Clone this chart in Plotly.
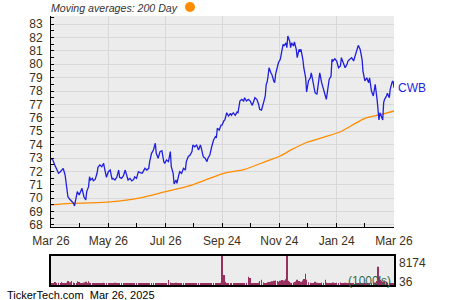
import pandas as pd
import plotly.graph_objects as go

start_date = "2024-03-26"
end_date = "2025-03-26"

# calendar days since the first quote (2024-03-26)
day_offsets = [
    0, 2, 4, 6, 8, 10, 11, 13, 15, 17,
    18, 20, 22, 24, 25, 27, 28, 30, 32, 33,
    35, 37, 38, 40, 41, 42, 44, 45, 47, 49,
    50, 52, 54, 56, 57, 59, 61, 63, 65, 66,
    68, 70, 72, 73, 75, 77, 79, 81, 82, 84,
    86, 88, 89, 91, 93, 95, 97, 98, 100, 102,
    104, 105, 107, 109, 111, 112, 114, 116, 118, 120,
    121, 123, 125, 127, 128, 130, 131, 133, 134, 136,
    137, 139, 141, 143, 144, 146, 148, 150, 151, 153,
    155, 157, 159, 160, 162, 164, 166, 167, 169, 171,
    173, 175, 176, 177, 179, 181, 182, 184, 185, 187,
    189, 191, 192, 194, 196, 198, 199, 201, 203, 205,
    206, 208, 210, 212, 214, 215, 217, 219, 221, 222,
    224, 226, 228, 229, 230, 231, 232, 234, 235, 237,
    238, 239, 241, 242, 244, 246, 247, 248, 250, 251,
    252, 254, 255, 256, 258, 259, 261, 262, 264, 265,
    266, 268, 269, 271, 272, 274, 276, 277, 279, 281,
    283, 284, 286, 288, 290, 292, 293, 294, 296, 298,
    299, 300, 302, 304, 306, 308, 309, 311, 313, 315,
    316, 318, 320, 322, 324, 325, 327, 329, 331, 332,
    334, 336, 338, 339, 341, 343, 345, 347, 348, 349,
    350, 351, 353, 354, 355, 357, 358, 360, 361, 363,
    364, 365,
]

close = [
    72.98, 72.85, 72.48, 72.10, 71.86, 71.98, 72.10, 72.23, 71.73, 70.61,
    70.11, 69.92, 69.74, 69.62, 69.42, 70.00, 70.49, 70.24, 70.61, 70.74,
    70.11, 69.87, 70.49, 70.86, 71.60, 71.36, 71.48, 71.30, 71.40, 71.86,
    72.30, 72.48, 72.35, 72.60, 72.23, 71.56, 71.98, 72.10, 71.40, 71.48,
    71.36, 71.56, 72.10, 71.56, 71.48, 71.66, 72.10, 71.56, 71.36, 71.48,
    71.30, 71.40, 71.60, 71.48, 71.98, 71.90, 71.86, 71.98, 72.23, 72.10,
    72.23, 72.73, 73.35, 73.60, 74.10, 73.35, 72.98, 73.48, 73.55, 72.73,
    72.60, 72.85, 72.73, 73.48, 72.35, 71.86, 71.06, 71.36, 71.11, 71.73,
    71.98, 71.86, 72.23, 72.10, 72.73, 73.10, 73.22, 73.48, 73.97, 73.84,
    73.97, 73.60, 73.97, 73.72, 73.10, 72.98, 72.73, 72.98, 73.22, 73.84,
    74.34, 74.59, 74.54, 75.22, 75.09, 75.46, 75.46, 75.78, 75.84, 76.38,
    76.13, 76.34, 76.19, 76.38, 76.19, 76.43, 76.38, 77.25, 77.38, 77.25,
    77.50, 77.25, 77.38, 77.25, 76.93, 77.08, 77.50, 77.38, 77.00, 76.63,
    76.58, 77.08, 77.63, 78.50, 78.67, 79.12, 79.74, 79.36, 79.24, 78.75,
    78.62, 79.24, 79.74, 80.11, 80.37, 81.11, 81.49, 81.36, 81.60, 81.23,
    82.10, 81.73, 81.23, 81.60, 81.36, 81.66, 81.11, 80.49, 81.11, 80.99,
    81.11, 80.37, 79.74, 78.99, 77.93, 78.75, 78.99, 79.36, 78.62, 77.87,
    77.75, 78.25, 79.36, 78.62, 78.00, 77.63, 77.38, 77.87, 78.87, 79.12,
    80.37, 80.24, 80.41, 80.24, 79.74, 79.87, 80.49, 80.11, 79.74, 79.99,
    80.24, 80.37, 80.49, 80.24, 80.74, 81.11, 81.41, 81.11, 80.37, 79.49,
    78.75, 78.99, 78.62, 78.99, 78.00, 77.63, 78.50, 77.38, 76.26, 75.84,
    76.38, 76.19, 75.84, 77.13, 77.38, 77.63, 77.83, 77.50, 78.13, 78.67,
    78.75, 78.25,
]

# volume in thousands
volume = [
    420, 380, 850, 520, 610, 300, 880, 450, 390, 620,
    1100, 750, 1150, 680, 540, 450, 1050, 820, 560, 310,
    700, 920, 480, 1080, 630, 450, 380, 520, 410, 360,
    450, 520, 380, 610, 470, 350, 420, 540, 380, 300,
    620, 480, 350, 520, 460, 380, 410, 550, 330, 460,
    380, 420, 350, 560, 410, 380, 470, 330, 520, 400,
    360, 450, 420, 380, 510, 350, 460, 380, 420, 350,
    400, 380, 1400, 720, 560, 480, 520, 610, 460, 380,
    420, 390, 450, 520, 460, 380, 410, 360, 490, 420,
    380, 440, 460, 390, 350, 420, 380, 510, 430, 460,
    400, 450, 380, 520, 480, 610, 8174, 2800, 900, 420,
    380, 460, 350, 420, 510, 380, 440, 390, 480, 520,
    430, 600, 2300, 2000, 560, 480, 420, 390, 620, 1100,
    1500, 680, 520, 460, 580, 740, 860, 920, 1050, 1200,
    980, 1300, 1100, 950, 1200, 1400, 1050, 1300, 1600, 8174,
    1200, 900, 620, 540, 700, 850, 980, 1500, 1100, 720,
    900, 1300, 1700, 3200, 1500, 800, 620, 540, 480, 900,
    650, 520, 480, 700, 560, 1500, 620, 480, 520, 410,
    560, 700, 480, 620, 540, 700, 480, 560, 620, 440,
    520, 460, 580, 400, 720, 540, 480, 620, 520, 380,
    460, 420, 380, 560, 520, 620, 700, 1100, 5150, 2300,
    1500, 1200, 900, 800, 1300, 900, 700, 620, 560, 500,
    480, 520,
]

ma_days = [0, 20, 41, 63, 95, 122, 146, 160, 178, 185, 206, 228, 244, 256,
           271, 292, 308, 324, 334, 349, 365]
ma_200 = [69.50, 69.62, 69.65, 69.72, 70.02, 70.49, 70.90, 71.24, 71.73, 71.88,
          72.15, 72.73, 73.15, 73.62, 74.14, 74.59, 74.96, 75.59, 75.96, 76.21,
          76.51]

tick_dates = ["2024-03-26", "2024-05-26", "2024-07-26", "2024-09-24",
              "2024-11-24", "2025-01-24", "2025-03-26"]
tick_labels = ["Mar 26", "May 26", "Jul 26", "Sep 24", "Nov 24", "Jan 24", "Mar 26"]
minor_dates = ["2024-04-25", "2024-06-25", "2024-08-25", "2024-10-24",
               "2024-12-24", "2025-02-23"]

ticker = "CWB"
volume_max_label = "8174"
volume_min_label = "36"

base = pd.Timestamp(start_date)
dates = base + pd.to_timedelta(day_offsets, unit="D")
ma_dates = base + pd.to_timedelta(ma_days, unit="D")

FONT = "Liberation Sans, Arial, sans-serif"
LABEL = "#3d3018"
BG = "#ececec"
GRID = "#d8d8d8"

fig = go.Figure()
fig.add_trace(go.Scatter(x=ma_dates, y=ma_200, mode="lines",
                         line=dict(color="#ff8c00", width=1.3, shape="spline", smoothing=0.6),
                         hoverinfo="skip", xaxis="x", yaxis="y"))
fig.add_trace(go.Scatter(x=dates, y=close, mode="lines",
                         line=dict(color="#1f1fdd", width=1.3),
                         xaxis="x", yaxis="y"))
fig.add_trace(go.Bar(x=dates, y=volume, marker=dict(color="#99305f", line=dict(width=0)),
                     xaxis="x2", yaxis="y2"))

xdom = [51 / 450, 394 / 450]
fig.update_layout(
    width=450, height=300,
    margin=dict(l=0, r=0, t=0, b=0, autoexpand=False),
    paper_bgcolor="white", plot_bgcolor=BG,
    showlegend=False, bargap=0.35,
    font=dict(family=FONT, size=12, color=LABEL),
    xaxis=dict(domain=xdom, anchor="y", type="date", automargin=False,
               range=[start_date, end_date],
               tickmode="array", tickvals=tick_dates, ticktext=tick_labels,
               ticks="inside", ticklen=4, tickcolor="black",
               showline=True, linecolor="black", linewidth=1,
               showgrid=True, gridcolor=GRID, gridwidth=1,
               minor=dict(tickvals=minor_dates, ticks="inside", ticklen=4,
                          tickcolor="black", showgrid=False),
               tickfont=dict(size=12, color=LABEL), ticklabelstandoff=3,
               zeroline=False),
    yaxis=dict(domain=[73 / 300, 284 / 300], anchor="x", automargin=False,
               range=[67.85, 83.6], dtick=1, tick0=0,
               ticks="inside", ticklen=3, tickcolor="black",
               showline=True, linecolor="black", linewidth=1,
               showgrid=True, gridcolor=GRID, gridwidth=1,
               minor=dict(dtick=0.5, ticks="inside", ticklen=3,
                          tickcolor="black", showgrid=False),
               tickfont=dict(size=12, color=LABEL), ticklabelstandoff=5,
               zeroline=False),
    xaxis2=dict(domain=xdom, anchor="y2", type="date", automargin=False,
                range=[start_date, end_date], showticklabels=False,
                showline=True, mirror=True, linecolor="black", linewidth=1.5,
                showgrid=False, ticks="", zeroline=False),
    yaxis2=dict(domain=[15 / 300, 44 / 300], anchor="x2", automargin=False,
                range=[0, 8174], showticklabels=False,
                showline=True, mirror=True, linecolor="black", linewidth=1.5,
                showgrid=False, ticks="", zeroline=False),
)

annotations = [
    dict(text="<i>Moving averages: 200 Day</i>", xref="paper", yref="paper",
         x=49 / 450, y=292 / 300, xanchor="left", yanchor="middle",
         showarrow=False, font=dict(size=10.6, color="#333333")),
    dict(text=ticker, xref="paper", yref="y", x=396 / 450, y=close[-1],
         xanchor="left", yanchor="middle", showarrow=False,
         font=dict(size=12, color="#1f1fdd")),
    dict(text="(1000's)", xref="paper", yref="paper", x=393 / 450, y=19 / 300,
         xanchor="right", yanchor="middle", showarrow=False,
         font=dict(size=12, color="#2f6a4c")),
    dict(text=volume_max_label, xref="paper", yref="paper", x=397 / 450, y=37 / 300,
         xanchor="left", yanchor="middle", showarrow=False,
         font=dict(size=12, color=LABEL)),
    dict(text=volume_min_label, xref="paper", yref="paper", x=397 / 450, y=18 / 300,
         xanchor="left", yanchor="middle", showarrow=False,
         font=dict(size=12, color=LABEL)),
    dict(text="TickerTech.com  Mar 26, 2025", xref="paper", yref="paper",
         x=5 / 450, y=5 / 300, xanchor="left", yanchor="middle", showarrow=False,
         font=dict(size=11, color="black")),
]
fig.update_layout(annotations=annotations)
fig.add_shape(type="circle", xref="paper", yref="paper",
              x0=185 / 450, x1=195 / 450, y0=288 / 300, y1=298 / 300,
              fillcolor="#ff8c00", line=dict(color="#ff8c00", width=0))

fig.write_html("out.html")
